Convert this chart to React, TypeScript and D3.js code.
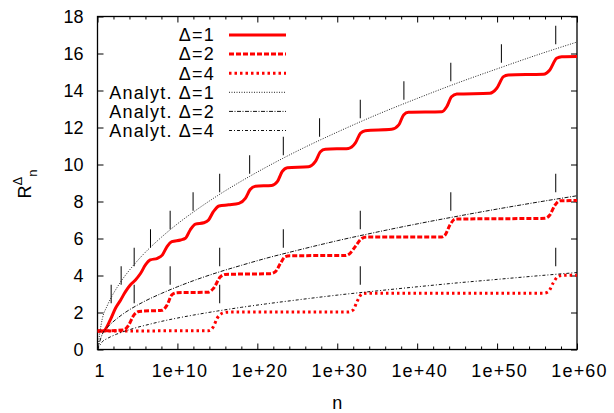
import React, { FC, useEffect, useRef } from "react"
import {
  axisBottom,
  axisLeft,
  axisRight,
  axisTop,
  curveMonotoneX,
  line,
  scaleLinear,
  scaleLog,
  select,
} from "d3"

// [log10 n, R]
type P = [number, number]

const xMajorExps = [0, 10, 20, 30, 40, 50, 60]
const xMinorExps = [2, 4, 6, 8, 12, 14, 16, 18, 22, 24, 26, 28, 32, 34, 36, 38, 42, 44, 46, 48, 52, 54, 56, 58]
const yTicks = [0, 2, 4, 6, 8, 10, 12, 14, 16, 18]

const legendLabels = ["Δ=1", "Δ=2", "Δ=4", "Analyt. Δ=1", "Analyt. Δ=2", "Analyt. Δ=4"]

// simulated staircases
const sim1: P[] = [
  [0, 1.0], [0.7, 1.0], [1.6, 1.6], [2.25, 2.23], [2.9, 2.68], [3.5, 3.13], [4.1, 3.49],
  [4.75, 3.76], [5.4, 4.12], [6.0, 4.57], [6.6, 4.84], [7.5, 4.93], [8.1, 5.1], [8.7, 5.56],
  [9.3, 5.83], [10.4, 5.92], [11.0, 6.01], [11.6, 6.46], [12.25, 6.78], [13.3, 6.85],
  [13.9, 7.0], [14.5, 7.45], [15.2, 7.76], [16.4, 7.82], [17.7, 7.9], [18.5, 8.17],
  [19.1, 8.65], [19.75, 8.83], [21.8, 8.87], [22.5, 9.07], [23.1, 9.61], [23.75, 9.83],
  [26.4, 9.88], [27.25, 10.15], [27.9, 10.69], [28.5, 10.82], [31.4, 10.87], [32.25, 11.15],
  [32.9, 11.69], [33.5, 11.83], [36.8, 11.9], [37.7, 12.14], [38.3, 12.68], [38.9, 12.82],
  [43.1, 12.85], [43.7, 13.12], [44.3, 13.66], [44.96, 13.81], [49.1, 13.85], [49.96, 14.12],
  [50.8, 14.75], [51.4, 14.84], [55.8, 14.88], [56.6, 15.11], [57.45, 15.74], [58.1, 15.83],
  [60, 15.84],
]

const sim2: P[] = [
  [0, 1.0], [3.2, 1.05], [3.9, 1.32], [4.55, 1.86], [5.2, 2.06], [8.1, 2.12], [8.7, 2.4],
  [9.3, 2.95], [9.95, 3.07], [13.9, 3.1], [14.5, 3.3], [15.4, 3.94], [16.0, 4.06],
  [21.6, 4.1], [22.25, 4.2], [22.9, 4.66], [23.5, 5.02], [24.1, 5.07], [31.0, 5.08],
  [31.6, 5.2], [32.25, 5.56], [33.1, 6.01], [33.7, 6.08], [43.1, 6.08], [43.5, 6.19],
  [44.1, 6.73], [44.75, 7.05], [56.0, 7.09], [56.6, 7.27], [57.25, 7.81], [57.9, 8.04],
  [60, 8.05],
]

const sim4: P[] = [
  [0, 1.0], [13.9, 1.02], [14.5, 1.23], [14.96, 1.68], [15.6, 1.96], [16.2, 2.02],
  [31.4, 2.03], [32.0, 2.14], [32.46, 2.58], [33.1, 3.0], [33.7, 3.04], [55.8, 3.04],
  [56.4, 3.12], [57.0, 3.58], [57.6, 3.94], [58.2, 4.01], [60, 4.02],
]

// analytic curves, read at these exponents
const analytExps = [0, 0.6, 1.2, 1.8, 2.4, 3, 4, 5, 6, 8, 10, 12, 15, 18, 21, 25, 30, 35, 40, 45, 50, 55, 60]
const analyt1 = [0, 1.66, 2.35, 2.88, 3.32, 3.72, 4.29, 4.8, 5.26, 6.07, 6.79, 7.43, 8.31, 9.1, 9.83, 10.73, 11.75, 12.7, 13.57, 14.4, 15.17, 15.92, 16.62]
const analyt2 = [0, 0.83, 1.18, 1.44, 1.66, 1.86, 2.15, 2.4, 2.63, 3.03, 3.39, 3.72, 4.16, 4.55, 4.92, 5.36, 5.88, 6.35, 6.79, 7.2, 7.59, 7.96, 8.31]
const analyt4 = [0, 0.42, 0.59, 0.72, 0.83, 0.93, 1.07, 1.2, 1.31, 1.52, 1.7, 1.86, 2.08, 2.28, 2.46, 2.68, 2.94, 3.17, 3.39, 3.6, 3.79, 3.98, 4.16]

// step markers: exponent of n and level
const stepExps1 = [1.71, 2.96, 4.59, 6.63, 9.09, 11.96, 15.29, 19.04, 23.25, 27.79, 32.88, 38.34, 44.21, 50.54, 57.34]
const stepLevels1 = [2, 3, 4, 5, 6, 7, 8, 9, 10, 11, 12, 13, 14, 15, 16]
const stepExps2 = [4.59, 9.09, 15.29, 23.25, 32.88, 44.21, 57.34]
const stepLevels2 = [2, 3, 4, 5, 6, 7, 8]
const stepExps4 = [15.29, 32.88, 57.34]
const stepLevels4 = [2, 3, 4]

const FONT = "'Liberation Sans', Arial, Helvetica, sans-serif"

const RecordChart: FC = () => {
  const svgRef = useRef<SVGSVGElement>(null)

  useEffect(() => {
    const element = svgRef.current
    if (!element) return
    document.body.style.margin = "0"

    // 1. dimensions
    const width = 614
    const height = 413
    const margin = { top: 16.5, right: 37, bottom: 63.5, left: 97.5 }
    const bounded = {
      width: width - margin.left - margin.right,
      height: height - margin.top - margin.bottom,
    }

    const svg = select(element)
    svg.selectAll("*").remove()

    const bounds = svg
      .append("g")
      .attr("transform", `translate(${margin.left},${margin.top})`)

    // 2. scales
    const toN = (e: number) => Math.pow(10, e)
    const xScale = scaleLog().domain([1, 1e60]).range([0, bounded.width])
    const yScale = scaleLinear().domain([0, 18]).range([bounded.height, 0])

    // 3. axes (gnuplot style, ticks inward, mirrored)
    const expLabel = (d: any) => {
      const e = Math.round(Math.log10(d))
      return e === 0 ? "1" : `1e+${e}`
    }
    const styleAxis = (g: any) => {
      g.select(".domain").remove()
      g.attr("font-family", FONT).attr("font-size", 18)
      g.selectAll("text").attr("fill", "#000")
    }

    bounds
      .append("g")
      .attr("transform", `translate(0,${bounded.height})`)
      .call(
        axisBottom(xScale)
          .tickValues(xMajorExps.map(toN))
          .tickSizeInner(-6)
          .tickSizeOuter(0)
          .tickPadding(15)
          .tickFormat(expLabel),
      )
      .call(styleAxis)
      .selectAll("text")
      .attr("letter-spacing", 1.2)
      .attr("dx", 2)
    bounds
      .append("g")
      .attr("transform", `translate(0,${bounded.height})`)
      .call(axisBottom(xScale).tickValues(xMinorExps.map(toN)).tickSizeInner(-3).tickSizeOuter(0).tickFormat(() => ""))
      .call(styleAxis)
    bounds
      .append("g")
      .call(axisTop(xScale).tickValues(xMajorExps.map(toN)).tickSizeInner(-6).tickSizeOuter(0).tickFormat(() => ""))
      .call(styleAxis)
    bounds
      .append("g")
      .call(axisTop(xScale).tickValues(xMinorExps.map(toN)).tickSizeInner(-3).tickSizeOuter(0).tickFormat(() => ""))
      .call(styleAxis)
    bounds
      .append("g")
      .call(axisLeft(yScale).tickValues(yTicks).tickSizeInner(-6).tickSizeOuter(0).tickPadding(14).tickFormat((d: any) => `${d}`))
      .call(styleAxis)
    bounds
      .append("g")
      .attr("transform", `translate(${bounded.width},0)`)
      .call(axisRight(yScale).tickValues(yTicks).tickSizeInner(-6).tickSizeOuter(0).tickFormat(() => ""))
      .call(styleAxis)

    // frame
    bounds
      .append("rect")
      .attr("width", bounded.width)
      .attr("height", bounded.height)
      .attr("fill", "none")
      .attr("stroke", "#000")
      .attr("stroke-width", 1.3)

    // 4. clip
    svg
      .append("defs")
      .append("clipPath")
      .attr("id", "plot-clip")
      .append("rect")
      .attr("width", bounded.width)
      .attr("height", bounded.height)
    const plot = bounds.append("g").attr("clip-path", "url(#plot-clip)")

    // 5. step markers
    const marks: P[] = [
      ...stepExps1.map((e, i) => [e, stepLevels1[i]] as P),
      ...stepExps2.map((e, i) => [e, stepLevels2[i]] as P),
      ...stepExps4.map((e, i) => [e, stepLevels4[i]] as P),
    ]
    plot
      .append("g")
      .selectAll("line")
      .data(marks)
      .join("line")
      .attr("x1", (d) => xScale(toN(d[0])))
      .attr("x2", (d) => xScale(toN(d[0])))
      .attr("y1", (d) => yScale(d[1] + 0.5))
      .attr("y2", (d) => yScale(d[1] + 1.5))
      .attr("stroke", "#000")
      .attr("stroke-width", 1)

    // 6. curves
    const lineGen = line<P>()
      .x((d) => xScale(toN(d[0])))
      .y((d) => yScale(d[1]))
      .curve(curveMonotoneX)

    const zipAnalyt = (vals: number[]): P[] => analytExps.map((e, i) => [e, vals[i]] as P)

    const series = [
      { data: sim1, color: "#ff0000", width: 3, dash: "none" },
      { data: sim2, color: "#ff0000", width: 3, dash: "5,2" },
      { data: sim4, color: "#ff0000", width: 3, dash: "2.5,3" },
      { data: zipAnalyt(analyt1), color: "#222", width: 1, dash: "1,1.5" },
      { data: zipAnalyt(analyt2), color: "#111", width: 1, dash: "4,1.5,1,1.5" },
      { data: zipAnalyt(analyt4), color: "#111", width: 1, dash: "3,2,1,2" },
    ]

    series.forEach((s) => {
      plot
        .append("path")
        .datum(s.data)
        .attr("d", lineGen)
        .attr("fill", "none")
        .attr("stroke", s.color)
        .attr("stroke-width", s.width)
        .attr("stroke-dasharray", s.dash)
    })

    // 7. legend
    const legend = svg.append("g").attr("font-family", FONT).attr("font-size", 18)
    series.forEach((s, i) => {
      const y = 35 + i * 19.1
      legend
        .append("text")
        .attr("x", 215)
        .attr("y", y)
        .attr("dy", "0.35em")
        .attr("text-anchor", "end")
        .attr("letter-spacing", 1.2)
        .attr("fill", "#000")
        .text(legendLabels[i])
      legend
        .append("line")
        .attr("x1", 229)
        .attr("x2", 286)
        .attr("y1", y)
        .attr("y2", y)
        .attr("stroke", s.color)
        .attr("stroke-width", s.width)
        .attr("stroke-dasharray", s.dash)
    })

    // 8. axis labels
    svg
      .append("text")
      .attr("x", margin.left + bounded.width / 2)
      .attr("y", 409)
      .attr("text-anchor", "middle")
      .attr("font-family", FONT)
      .attr("font-size", 18)
      .text("n")

    const yLabel = svg
      .append("text")
      .attr("transform", "translate(31,184) rotate(-90)")
      .attr("text-anchor", "middle")
      .attr("font-family", FONT)
      .attr("font-size", 18)
    yLabel.append("tspan").text("R")
    yLabel.append("tspan").attr("dy", -9).attr("font-size", 13).text("Δ")
    yLabel.append("tspan").attr("dy", 14.5).attr("font-size", 13).text("n")
  }, [])

  return <svg ref={svgRef} width={614} height={413} style={{ display: "block", background: "#fff" }} />
}

export default RecordChart
